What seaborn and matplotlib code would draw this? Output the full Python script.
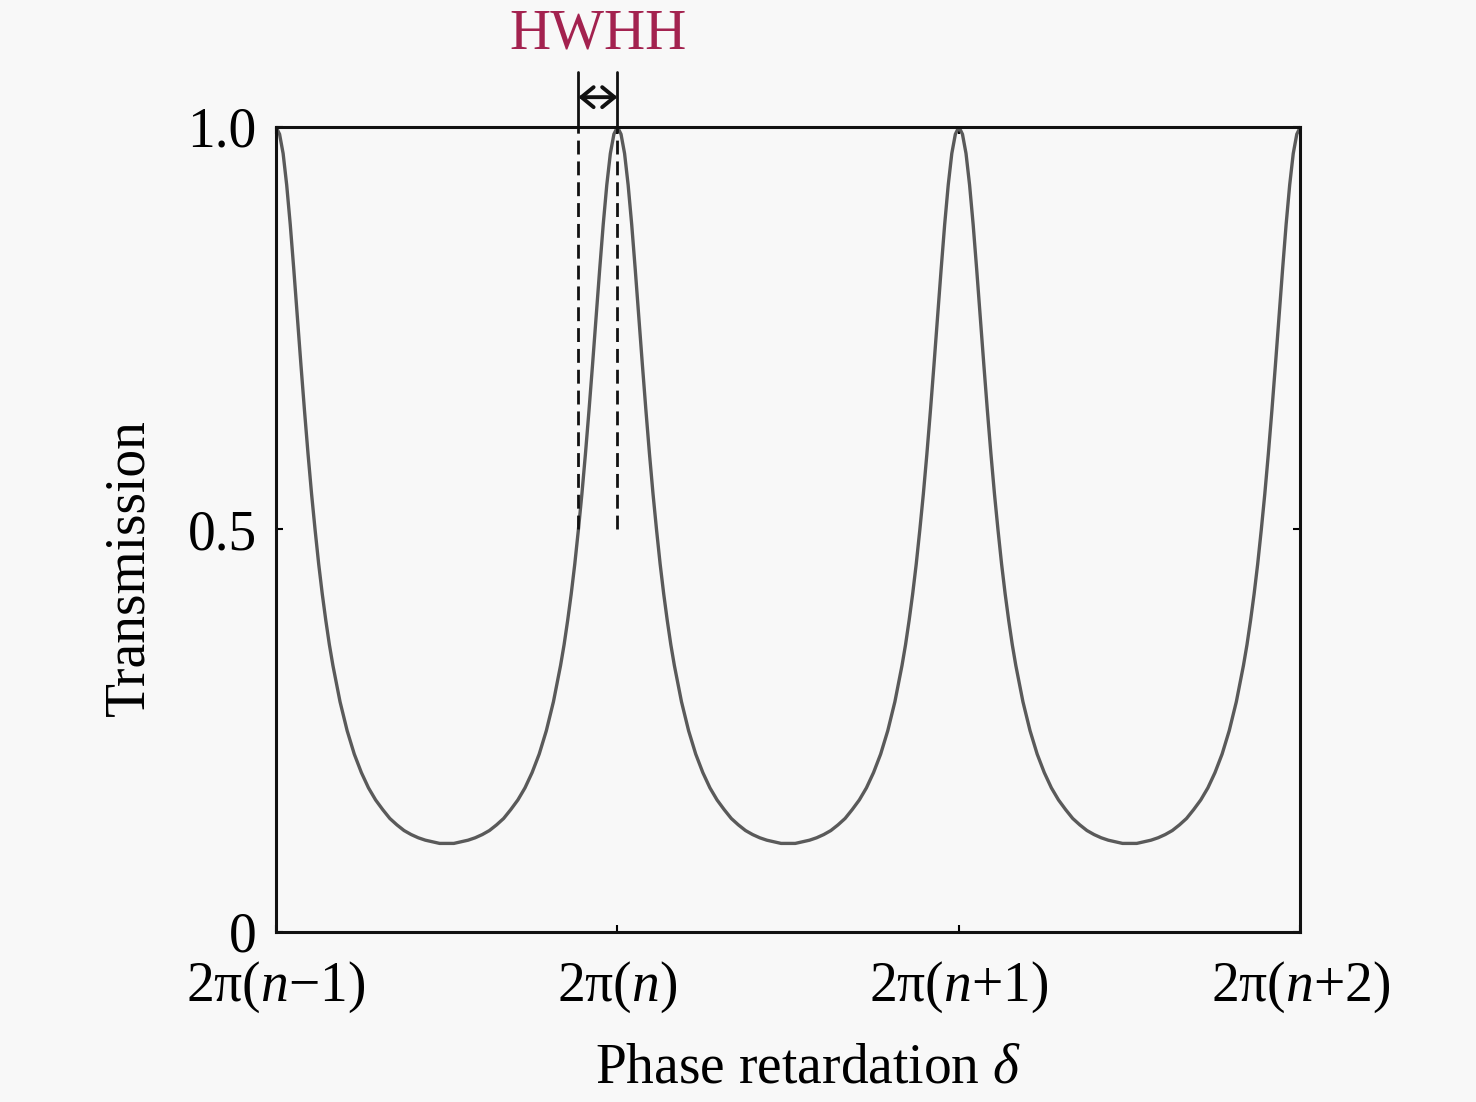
import numpy as np
import pandas as pd
import seaborn as sns
import matplotlib
matplotlib.use("Agg")
import matplotlib.pyplot as plt

# phase position in 1/96 of a period (peak to peak), transmission
phase_steps = [0, 1, 2, 3, 4, 5, 6, 7, 8, 9, 10, 11, 12, 13, 14, 15, 16, 18, 20, 22, 24, 26, 28, 30, 32, 34, 36, 38, 40, 42, 44, 46, 48,
               50, 52, 54, 56, 58, 60, 62, 64, 66, 68, 70, 72, 74, 76, 78, 80, 81, 82, 83, 84, 85, 86, 87, 88, 89, 90, 91, 92, 93, 94, 95, 96,
               97, 98, 99, 100, 101, 102, 103, 104, 105, 106, 107, 108, 109, 110, 111, 112, 114, 116, 118, 120, 122, 124, 126, 128,
               130, 132, 134, 136, 138, 140, 142, 144, 146, 148, 150, 152, 154, 156, 158, 160, 162, 164, 166, 168, 170, 172, 174, 176,
               177, 178, 179, 180, 181, 182, 183, 184, 185, 186, 187, 188, 189, 190, 191, 192,
               193, 194, 195, 196, 197, 198, 199, 200, 201, 202, 203, 204, 205, 206, 207, 208, 210, 212, 214, 216, 218, 220, 222, 224,
               226, 228, 230, 232, 234, 236, 238, 240, 242, 244, 246, 248, 250, 252, 254, 256, 258, 260, 262, 264, 266, 268, 270, 272,
               273, 274, 275, 276, 277, 278, 279, 280, 281, 282, 283, 284, 285, 286, 287, 288]
transmission = [1.000,
                0.991, 0.967, 0.928, 0.879, 0.823, 0.764, 0.705, 0.648, 0.594, 0.544, 0.499, 0.457, 0.420, 0.387, 0.357, 0.331,
                0.286, 0.250, 0.221, 0.198, 0.179, 0.164, 0.152, 0.141, 0.133, 0.126, 0.121, 0.117, 0.114, 0.112, 0.110, 0.110,
                0.110, 0.112, 0.114, 0.117, 0.121, 0.126, 0.133, 0.141, 0.152, 0.164, 0.179, 0.198, 0.221, 0.250, 0.286,
                0.331, 0.357, 0.387, 0.420, 0.457, 0.499, 0.544, 0.594, 0.648, 0.705, 0.764, 0.823, 0.879, 0.928, 0.967, 0.991, 1.000,
                0.991, 0.967, 0.928, 0.879, 0.823, 0.764, 0.705, 0.648, 0.594, 0.544, 0.499, 0.457, 0.420, 0.387, 0.357, 0.331,
                0.286, 0.250, 0.221, 0.198, 0.179, 0.164, 0.152, 0.141, 0.133, 0.126, 0.121, 0.117, 0.114, 0.112, 0.110, 0.110,
                0.110, 0.112, 0.114, 0.117, 0.121, 0.126, 0.133, 0.141, 0.152, 0.164, 0.179, 0.198, 0.221, 0.250, 0.286,
                0.331, 0.357, 0.387, 0.420, 0.457, 0.499, 0.544, 0.594, 0.648, 0.705, 0.764, 0.823, 0.879, 0.928, 0.967, 0.991, 1.000,
                0.991, 0.967, 0.928, 0.879, 0.823, 0.764, 0.705, 0.648, 0.594, 0.544, 0.499, 0.457, 0.420, 0.387, 0.357, 0.331,
                0.286, 0.250, 0.221, 0.198, 0.179, 0.164, 0.152, 0.141, 0.133, 0.126, 0.121, 0.117, 0.114, 0.112, 0.110, 0.110,
                0.110, 0.112, 0.114, 0.117, 0.121, 0.126, 0.133, 0.141, 0.152, 0.164, 0.179, 0.198, 0.221, 0.250, 0.286,
                0.331, 0.357, 0.387, 0.420, 0.457, 0.499, 0.544, 0.594, 0.648, 0.705, 0.764, 0.823, 0.879, 0.928, 0.967, 0.991, 1.000]

x_ticks = [0, 96, 192, 288]
x_labels = ['2π($n$−1)', '2π($n$)', '2π($n$+1)', '2π($n$+2)']
y_ticks = [0, 0.5, 1.0]
y_labels = ['0', '0.5', '1.0']
hwhh_left = 85    # half-height point left of the 2π(n) peak
hwhh_peak = 96

sns.set_style("ticks")
plt.rcParams['font.family'] = ['Liberation Serif', 'DejaVu Serif']
plt.rcParams['mathtext.fontset'] = 'custom'
plt.rcParams['mathtext.rm'] = 'Liberation Serif'
plt.rcParams['mathtext.it'] = 'Liberation Serif:italic'
plt.rcParams['text.color'] = 'black'
plt.rcParams['axes.labelcolor'] = 'black'

df = pd.DataFrame({'phase': phase_steps, 'T': transmission})

fig = plt.figure(figsize=(14.76, 11.02), dpi=100, facecolor='#f8f8f8')
ax = fig.add_axes([0.187, 0.1543, 0.694, 0.7305])
ax.set_facecolor('#f8f8f8')

sns.lineplot(data=df, x='phase', y='T', color='#5a5a5a', lw=2.4, ax=ax)

ax.set_xlim(0, 288)
ax.set_ylim(0, 1.0)
ax.set_xticks(x_ticks)
ax.set_xticklabels(x_labels)
ax.set_yticks(y_ticks)
ax.set_yticklabels(y_labels)
ax.tick_params(direction='in', length=5, width=1.5, labelsize=40,
               top=True, right=True, colors='black')
ax.tick_params(axis='x', pad=20)
ax.tick_params(axis='y', pad=14)
for s in ax.spines.values():
    s.set_linewidth(2.2)
    s.set_color('#111111')

ax.set_xlabel('Phase retardation $\\delta$', fontsize=40)
ax.set_ylabel('Transmission', fontsize=40)
ax.xaxis.set_label_coords(0.519, -0.137)
ax.yaxis.set_label_coords(-0.118, 0.453)

# HWHH marker
for xv in (hwhh_left, hwhh_peak):
    ax.plot([xv, xv], [0.5, 1.0], ls=(0, (5, 2.5)), color='#111111', lw=2.0, clip_on=False)
    ax.plot([xv, xv], [1.0, 1.068], ls='-', color='#111111', lw=2.0, clip_on=False)
ax.annotate('', xy=(hwhh_left, 1.037), xytext=(hwhh_peak, 1.037),
            arrowprops=dict(arrowstyle='<->,head_length=0.55,head_width=0.45', color='#111111', lw=2.8,
                            shrinkA=0, shrinkB=0, mutation_scale=16),
            annotation_clip=False)
ax.text((hwhh_left + hwhh_peak) / 2, 1.115, 'HWHH', color='#a3224f', fontsize=41,
        ha='center', va='center', clip_on=False)

fig.savefig('out.png', dpi=100, facecolor=fig.get_facecolor())
